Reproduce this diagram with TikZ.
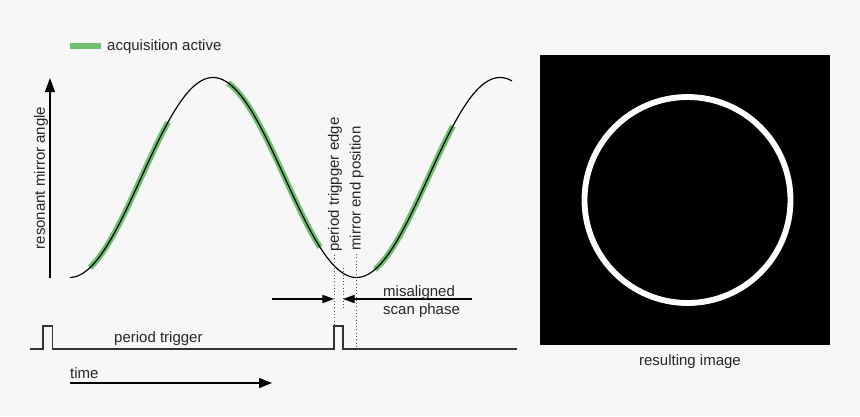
\documentclass[tikz,border=0pt]{standalone}
\usepackage{fontspec}
\setmainfont{Liberation Sans}
\usepackage{tikz}
\usetikzlibrary{arrows.meta}
\pgfdeclarelayer{backlayer}
\pgfdeclarelayer{edgelayer}
\pgfdeclarelayer{nodelayer}
\pgfsetlayers{backlayer,edgelayer,nodelayer,main}
\tikzstyle{none}=[inner sep=0pt]
\tikzstyle{label text}=[inner sep=0pt, font=\fontsize{12.8pt}{15pt}\selectfont, text=black!85]
\tikzstyle{acquisition}=[draw={rgb,255:red,112;green,190;blue,112}, line width=5pt]
\tikzstyle{signal}=[draw=black!80, line width=1.25pt]
\tikzstyle{marker}=[draw=black!70, dotted, line width=0.8pt]
\definecolor{paper}{RGB}{247,247,247}

\begin{document}
\begin{tikzpicture}[x=0.03cm, y=-0.03cm]
	\begin{pgfonlayer}{backlayer}
		\fill [paper] (0, 0) rectangle (860, 416);
	\end{pgfonlayer}
	\useasboundingbox (0, 0) rectangle (860, 416);
	\begin{pgfonlayer}{nodelayer}
		\node [style=none] (0) at (50, 278) {};
		\node [style=none] (1) at (50, 78) {};
		\node [style=label text, rotate=90] (2) at (41, 178) {resonant mirror angle};
		\node [style=none] (3) at (70, 46) {};
		\node [style=none] (4) at (101, 46) {};
		\node [style=label text, anchor=base west] (5) at (107, 50.7) {acquisition active};
		\node [style=none] (6) at (30, 349) {};
		\node [style=none] (7) at (43, 349) {};
		\node [style=none] (8) at (43, 326) {};
		\node [style=none] (9) at (52.5, 326) {};
		\node [style=none] (10) at (52.5, 349) {};
		\node [style=none] (11) at (334, 349) {};
		\node [style=none] (12) at (334, 326) {};
		\node [style=none] (13) at (343, 326) {};
		\node [style=none] (14) at (343, 349) {};
		\node [style=none] (15) at (517, 349) {};
		\node [style=none] (16) at (334, 255) {};
		\node [style=none] (17) at (343, 268) {};
		\node [style=none] (18) at (343, 309) {};
		\node [style=none] (19) at (356, 254) {};
		\node [style=none] (20) at (356, 349) {};
		\node [style=none] (21) at (272, 299) {};
		\node [style=none] (22) at (334, 299) {};
		\node [style=none] (23) at (472, 299) {};
		\node [style=none] (24) at (343, 299) {};
		\node [style=label text, anchor=base west] (25) at (383, 296.7) {misaligned};
		\node [style=label text, anchor=base west] (26) at (383, 314.3) {scan phase};
		\node [style=label text, rotate=90, anchor=west] (27) at (335, 252) {period trigpger edge};
		\node [style=label text, rotate=90, anchor=west] (28) at (356.7, 251) {mirror end position};
		\node [style=label text, anchor=base west] (29) at (114, 342.3) {period trigger};
		\node [style=none] (30) at (70, 383) {};
		\node [style=none] (31) at (272, 383) {};
		\node [style=label text, anchor=base west] (32) at (70, 378) {time};
		\node [style=label text, anchor=base] (33) at (690, 365) {resulting image};
	\end{pgfonlayer}
	\begin{pgfonlayer}{edgelayer}
		% acquisition windows
		\draw [style=acquisition] (3.center) to (4.center);
		\draw [style=acquisition] plot [domain=90:168, samples=40] (\x, {177.5-100*cos(1.2544*(\x-213))});
		\draw [style=acquisition] plot [domain=228:320, samples=40] (\x, {177.5-100*cos(1.2544*(\x-213))});
		\draw [style=acquisition] plot [domain=375:453, samples=40] (\x, {177.5-100*cos(1.2544*(\x-213))});
		% mirror
		\draw [black, line width=1pt] plot [domain=70:512, samples=200] (\x, {177.5-100*cos(1.2544*(\x-213))});
		\draw [-{Triangle[length=12pt, width=8.5pt]}, line width=1.1pt] (0.center) to (1.center);
		% trigger
		\draw [style=signal] (6.center) to (7.center) to (8.center) to (9.center) to (10.center)
			to (11.center) to (12.center) to (13.center) to (14.center) to (15.center);
		\draw [style=marker] (16.center) to (12.center);
		\draw [style=marker] (17.center) to (18.center);
		\draw [style=marker] (19.center) to (20.center);
		\draw [-{Triangle[length=10pt, width=7pt]}, line width=1.1pt] (21.center) to (22.center);
		\draw [-{Triangle[length=10pt, width=7pt]}, line width=1.1pt] (23.center) to (24.center);
		\draw [-{Triangle[length=11pt, width=8.5pt]}, line width=1.1pt] (30.center) to (31.center);
		% image
		\fill [black] (540, 55) rectangle (830, 345);
		\draw [white, line width=5pt] (687.5, 200) circle [radius=103];
	\end{pgfonlayer}
\end{tikzpicture}
\end{document}
